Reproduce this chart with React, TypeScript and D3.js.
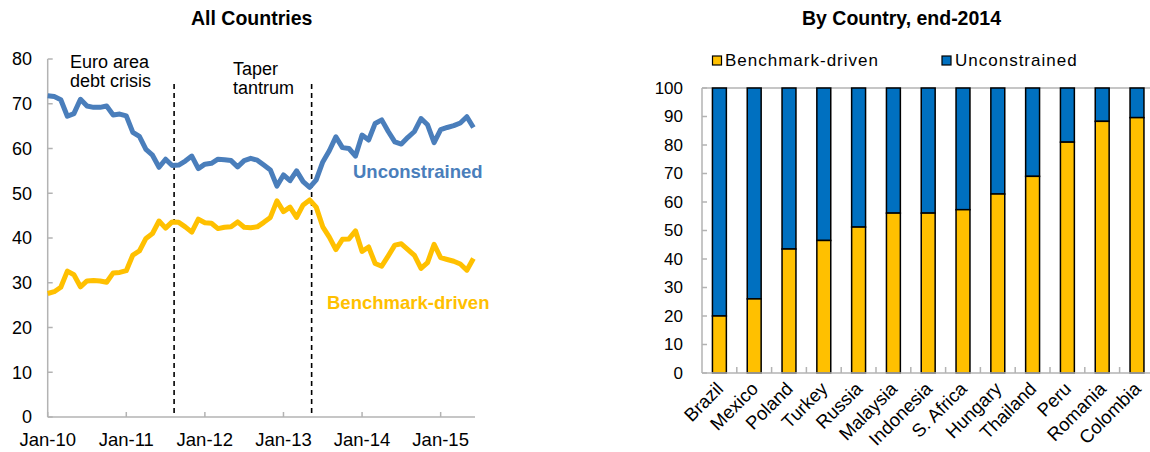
import React from "react";
import * as d3 from "d3";

// ---------- Left chart data (monthly, Jan-10 .. Jun-15) ----------
const unconstrained: number[] = [
  71.8, 71.6, 70.9, 67.2, 67.8, 71.0, 69.5, 69.2, 69.2, 69.5, 67.5, 67.7,
  67.3, 63.6, 62.7, 59.8, 58.5, 55.8, 57.6, 56.2, 56.3, 57.2, 58.3, 55.5,
  56.5, 56.7, 57.6, 57.5, 57.3, 55.9, 57.3, 57.8, 57.4, 56.3, 55.2, 51.6,
  54.1, 52.8, 55.0, 52.6, 51.3, 53.0, 57.0, 59.5, 62.6, 60.2, 60.0, 58.3,
  63.0, 61.9, 65.6, 66.4, 63.8, 61.5, 61.0, 62.5, 63.8, 66.7, 65.3, 61.3,
  64.2, 64.7, 65.1, 65.7, 67.1, 64.7,
];
const benchmarkDriven: number[] = [
  27.6, 28.0, 29.0, 32.6, 31.8, 29.1, 30.4, 30.5, 30.4, 30.1, 32.2, 32.3,
  32.7, 36.2, 37.1, 39.9, 41.0, 43.8, 42.2, 43.6, 43.5, 42.5, 41.3, 44.2,
  43.4, 43.3, 42.1, 42.4, 42.5, 43.6, 42.4, 42.3, 42.5, 43.5, 44.6, 48.3,
  45.9, 46.9, 44.6, 47.4, 48.5, 46.9, 42.5, 40.2, 37.4, 39.7, 39.8, 41.6,
  37.0, 38.0, 34.3, 33.7, 36.0, 38.4, 38.7, 37.4, 36.1, 33.2, 34.5, 38.6,
  35.6, 35.2, 34.8, 34.2, 32.8, 35.4,
];
const xTickLabels: string[] = ["Jan-10", "Jan-11", "Jan-12", "Jan-13", "Jan-14", "Jan-15"];
const xTickIndex: number[] = [0, 12, 24, 36, 48, 60];
const leftYTicks: number[] = [0, 10, 20, 30, 40, 50, 60, 70, 80];
const eventIndex: number[] = [19.3, 40.3];

// ---------- Right chart data ----------
const countries: string[] = [
  "Brazil", "Mexico", "Poland", "Turkey", "Russia", "Malaysia", "Indonesia",
  "S. Africa", "Hungary", "Thailand", "Peru", "Romania", "Colombia",
];
const benchmarkShare: number[] = [20, 26, 43.5, 46.5, 51.2, 56.1, 56.1, 57.3, 62.8, 69, 81, 88.3, 89.6];
const rightYTicks: number[] = [0, 10, 20, 30, 40, 50, 60, 70, 80, 90, 100];

const FONT = "'Liberation Sans', Arial, Helvetica, sans-serif";
const BLUE_LINE = "#4A7EBB";
const YELLOW = "#FFC000";
const BLUE_BAR = "#0070C0";
const AXIS = "#B3B3B3";

export default function App() {
  // Left chart scales
  const xL = d3.scaleLinear().domain([0, 65]).range([47.7, 473.4]);
  const yL = d3.scaleLinear().domain([0, 80]).range([417, 59]);
  const line = d3
    .line<number>()
    .x((_, i) => xL(i))
    .y((d) => yL(d))
    .curve(d3.curveLinear);

  // Right chart scales
  const xR = d3
    .scaleBand<string>()
    .domain(countries)
    .range([702, 702 + 13 * 34.8])
    .paddingInner(0.6)
    .paddingOuter(0.3);
  const yR = d3.scaleLinear().domain([0, 100]).range([373, 88]);
  const bw = xR.bandwidth();

  return (
    <svg
      width={1150}
      height={452}
      style={{ position: "absolute", left: 0, top: 0, background: "#fff" }}
      fontFamily={FONT}
    >
      {/* ---------------- Left chart ---------------- */}
      <text x={251.7} y={25} textAnchor="middle" fontWeight="bold" fontSize={19.5} fill="#000">
        All Countries
      </text>

      {/* y axis */}
      <line x1={xL(0)} x2={xL(0)} y1={yL(80)} y2={yL(0)} stroke={AXIS} strokeWidth={1.5} />
      {leftYTicks.map((t) => (
        <g key={"ly" + t}>
          <line x1={xL(0)} x2={xL(0) + 5} y1={yL(t)} y2={yL(t)} stroke={AXIS} strokeWidth={1.5} />
          <text x={32} y={yL(t)} dy="0.35em" textAnchor="end" fontSize={18} fill="#000">
            {t}
          </text>
        </g>
      ))}
      {/* x axis */}
      <line x1={xL(0)} x2={475} y1={yL(0)} y2={yL(0)} stroke={AXIS} strokeWidth={1.5} />
      {xTickIndex.map((ix, k) => (
        <g key={"lx" + ix}>
          <line x1={xL(ix)} x2={xL(ix)} y1={yL(0)} y2={yL(0) - 5} stroke={AXIS} strokeWidth={1.5} />
          <text x={xL(ix)} y={446} textAnchor="middle" fontSize={18.5} fill="#000">
            {xTickLabels[k]}
          </text>
        </g>
      ))}

      {/* event lines */}
      {eventIndex.map((ix) => (
        <line
          key={"ev" + ix}
          x1={xL(ix)}
          x2={xL(ix)}
          y1={84}
          y2={yL(0)}
          stroke="#000"
          strokeWidth={1.6}
          strokeDasharray="5,4"
        />
      ))}

      {/* series */}
      <path d={line(unconstrained) ?? ""} fill="none" stroke={BLUE_LINE} strokeWidth={5} strokeLinejoin="round" />
      <path d={line(benchmarkDriven) ?? ""} fill="none" stroke={YELLOW} strokeWidth={5} strokeLinejoin="round" />

      {/* annotations */}
      <text x={70} y={68} fontSize={18} fill="#000">Euro area</text>
      <text x={70} y={87} fontSize={18} fill="#000">debt crisis</text>
      <text x={233} y={75} fontSize={18} fill="#000">Taper</text>
      <text x={233} y={94} fontSize={18} fill="#000">tantrum</text>
      <text x={353} y={178} fontSize={18.5} fontWeight="bold" fill={BLUE_LINE}>Unconstrained</text>
      <text x={327} y={309} fontSize={18.5} fontWeight="bold" fill={YELLOW}>Benchmark-driven</text>

      {/* ---------------- Right chart ---------------- */}
      <text x={901.5} y={25} textAnchor="middle" fontWeight="bold" fontSize={19.5} fill="#000">
        By Country, end-2014
      </text>

      {/* legend */}
      <rect x={712.5} y={56} width={9} height={9} fill={YELLOW} stroke="#000" strokeWidth={1.2} />
      <text x={725} y={66} fontSize={17} letterSpacing={1} fill="#000">Benchmark-driven</text>
      <rect x={942} y={56} width={9} height={9} fill={BLUE_BAR} stroke="#000" strokeWidth={1.2} />
      <text x={955} y={66} fontSize={17} letterSpacing={1} fill="#000">Unconstrained</text>

      {/* top border line */}
      <line x1={702} x2={1150} y1={yR(100)} y2={yR(100)} stroke={AXIS} strokeWidth={1.5} />

      {/* bars */}
      {countries.map((c, i) => {
        const x0 = xR(c) ?? 0;
        const v = benchmarkShare[i];
        return (
          <g key={"bar" + c}>
            <rect x={x0} y={yR(100)} width={bw} height={yR(v) - yR(100)} fill={BLUE_BAR} stroke="#000" strokeWidth={1.5} />
            <rect x={x0} y={yR(v)} width={bw} height={yR(0) - yR(v)} fill={YELLOW} stroke="#000" strokeWidth={1.5} />
          </g>
        );
      })}

      {/* y axis */}
      <line x1={702} x2={702} y1={yR(100)} y2={yR(0)} stroke={AXIS} strokeWidth={1.5} />
      {rightYTicks.map((t) => (
        <g key={"ry" + t}>
          <line x1={702} x2={707} y1={yR(t)} y2={yR(t)} stroke={AXIS} strokeWidth={1.5} />
          <text x={683} y={yR(t)} dy="0.35em" textAnchor="end" fontSize={17} fill="#000">
            {t}
          </text>
        </g>
      ))}
      {/* x axis */}
      <line x1={702} x2={1150} y1={yR(0)} y2={yR(0)} stroke={AXIS} strokeWidth={1.5} />
      {countries.map((c, i) => {
        const bx = 702 + (i + 1) * xR.step();
        const cx = (xR(c) ?? 0) + bw / 2;
        return (
          <g key={"rx" + c}>
            {i < countries.length - 1 && (
              <line x1={bx} x2={bx} y1={yR(0)} y2={yR(0) - 6} stroke={AXIS} strokeWidth={1.5} />
            )}
            <text
              transform={`translate(${cx + 5},${390}) rotate(-45)`}
              textAnchor="end"
              fontSize={18.5}
              fill="#000"
            >
              {c}
            </text>
          </g>
        );
      })}
    </svg>
  );
}
